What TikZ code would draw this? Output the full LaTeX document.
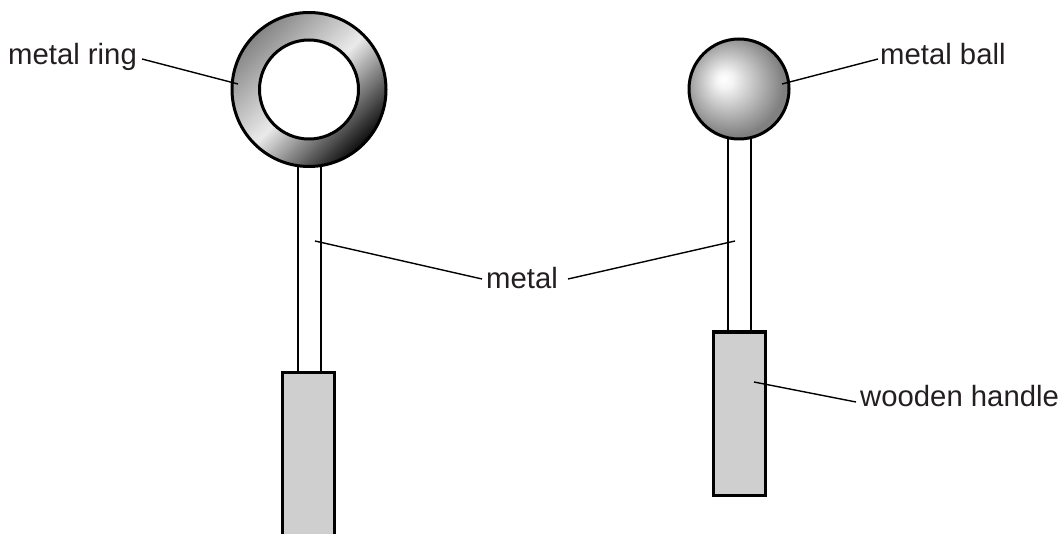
\documentclass[tikz,border=0pt]{standalone}
\usepackage{fontspec}
\setmainfont{Liberation Sans}
\definecolor{txt}{RGB}{35,31,32}
\definecolor{wood}{gray}{0.81}
\pgfdeclareradialshading{ballsh}{\pgfpoint{-8bp}{5bp}}{color(0bp)=(white); color(4bp)=(white!96!black); color(26bp)=(black!50); color(50bp)=(black!50)}
\begin{document}
\begin{tikzpicture}[x=1pt,y=-1pt,
  outline/.style={draw=black,line width=3pt},
  rodline/.style={draw=black,line width=2.6pt},
  leader/.style={draw=black,line width=1.4pt},
  lbl/.style={anchor=base west,inner sep=0pt,text=txt,font=\fontsize{29.3}{35}\selectfont},
  handlebox/.style={outline,fill=wood}]
\useasboundingbox (0,0) rectangle (1062,534);
\clip (0,0) rectangle (1062,534);
% ---- left object: metal ring ----
\draw[rodline] (298,150) -- (298,372);
\draw[rodline] (321,150) -- (321,372);
\shade[top color=black!48, bottom color=black!95, middle color=black!8, shading angle=45] (309,89.5) circle (77);
\draw[outline] (309,89.5) circle (77);
\draw[outline,fill=white] (309,89.5) circle (49.5);
\draw[handlebox] (282,372) rectangle (334,545);
% ---- right object: metal ball ----
\draw[rodline] (728,120) -- (728,332);
\draw[rodline] (751,120) -- (751,332);
\shade[shading=ballsh] (739,89) circle (50);
\draw[outline] (739,89) circle (50);
\draw[handlebox] (713,332) rectangle (765,495);
% ---- labels ----
\node[lbl] (mr) at (8,65) {metal ring};
\node[lbl] (mb) at (880,65) {metal ball};
\node[lbl] (mt) at (486,289) {metal};
\node[lbl] (wh) at (860,406) {wooden handle};
\coordinate (mrA) at (142,59);
\coordinate (mrB) at (238,84);
\coordinate (mbA) at (878,59);
\coordinate (mbB) at (782,84);
\coordinate (mtA) at (482,279);
\coordinate (mtB) at (315,241);
\coordinate (mtC) at (568,279);
\coordinate (mtD) at (735,241);
\coordinate (whA) at (856,402);
\coordinate (whB) at (754,382);
\draw[leader] (mrA) -- (mrB);
\draw[leader] (mbA) -- (mbB);
\draw[leader] (mtA) -- (mtB);
\draw[leader] (mtC) -- (mtD);
\draw[leader] (whA) -- (whB);
\end{tikzpicture}
\end{document}
